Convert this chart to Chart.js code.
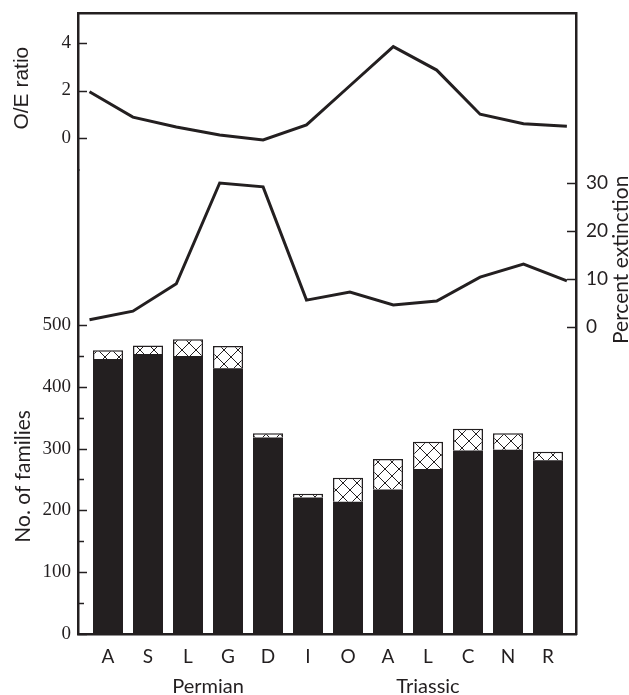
<!DOCTYPE html>
<html>
<head>
<meta charset="utf-8">
<script src="https://cdn.jsdelivr.net/npm/chart.js@4"></script>
<style>
  body { margin: 0; background: #fff; }
  #wrap { width: 629px; height: 695px; position: relative; }
</style>
</head>
<body>
<div id="wrap"><canvas id="extChart"></canvas></div>
<script>
const stages = ['A', 'S', 'L', 'G', 'D', 'I', 'O', 'A', 'L', 'C', 'N', 'R'];
const periods = ['Permian', 'Triassic'];
const oeRatio = [1.95, 0.88, 0.46, 0.13, -0.08, 0.55, 2.2, 3.85, 2.86, 1.0, 0.6, 0.5];
const pctExtinction = [1.5, 3.3, 9.0, 30.0, 29.2, 5.6, 7.3, 4.6, 5.4, 10.4, 13.1, 9.6];
const familiesBlack = [445, 453, 450, 430, 318, 221, 214, 234, 267, 297, 298, 281];
const familiesTotal = [459, 467, 477, 466, 325, 227, 253, 283, 311, 332, 325, 295];

const oeTicks = [0, 1, 2, 3, 4];
const familyTicks = [0, 50, 100, 150, 200, 250, 300, 350, 400, 450, 500];
const pctTicks = [0, 10, 20, 30];
const periodTicks = [2.5, 8];

const INK = '#231f20';

function hatchPattern() {
    const c = document.createElement('canvas');
    c.width = 14; c.height = 14;
    const g = c.getContext('2d');
    g.fillStyle = '#fff';
    g.fillRect(0, 0, 14, 14);
    g.strokeStyle = INK;
    g.lineWidth = 1;
    g.beginPath();
    g.moveTo(0, 0); g.lineTo(14, 14);
    g.moveTo(14, 0); g.lineTo(0, 14);
    g.stroke();
    return g.createPattern(c, 'repeat');
}

// fixed axis box size, no label overhang padding
function fitBox(w, h) {
    return s => {
        if (w !== null) s.width = w;
        if (h !== null) s.height = h;
        s.paddingTop = 0; s.paddingBottom = 0;
        s.paddingLeft = 0; s.paddingRight = 0;
    };
}

// inward tick marks + rotated axis titles
const framePlugin = {
    id: 'frame',
    afterDraw(chart) {
        const ctx = chart.ctx;
        ctx.save();
        ctx.strokeStyle = INK;
        ctx.lineWidth = 1.5;
        [['yOE', 1, v => v % 2 === 0], ['yBar', 1, v => v % 100 === 0], ['yPct', -1, () => true]].forEach(([id, dir, major]) => {
            const s = chart.scales[id];
            const x0 = dir > 0 ? s.right : s.left;
            s.ticks.forEach(t => {
                const y = Math.round(s.getPixelForValue(t.value)) + 0.5;
                const len = major(t.value) ? 9 : 6;
                ctx.beginPath();
                ctx.moveTo(x0, y);
                ctx.lineTo(x0 + dir * len, y);
                ctx.stroke();
            });
        });

        ctx.fillStyle = INK;
        ctx.textAlign = 'center';
        ctx.textBaseline = 'middle';
        const titles = [
            ['O/E ratio', 22, chart.scales.yOE.getPixelForValue(2.1), '21px "Liberation Sans"'],
            ['No. of families', 23, chart.scales.yBar.getPixelForValue(255), '21px Lato'],
            ['Percent extinction', 621, chart.scales.yPct.getPixelForValue(14), '21px Lato']
        ];
        titles.forEach(([txt, x, y, font]) => {
            ctx.save();
            ctx.translate(x, y);
            ctx.rotate(-Math.PI / 2);
            ctx.font = font;
            ctx.fillText(txt, 0, 0);
            ctx.restore();
        });
        ctx.restore();
    }
};

const border = { display: true, color: INK, width: 2.5 };

new Chart(document.getElementById('extChart'), {
    type: 'bar',
    data: {
        datasets: [
            {
                label: 'O/E ratio',
                type: 'line',
                data: oeRatio.map((v, i) => ({ x: i, y: v })),
                xAxisID: 'xLine',
                yAxisID: 'yOE',
                borderColor: INK,
                borderWidth: 3,
                pointRadius: 0,
                tension: 0
            },
            {
                label: 'Percent extinction',
                type: 'line',
                data: pctExtinction.map((v, i) => ({ x: i, y: v })),
                xAxisID: 'xLine',
                yAxisID: 'yPct',
                borderColor: INK,
                borderWidth: 3,
                pointRadius: 0,
                tension: 0
            },
            {
                label: 'families',
                data: familiesBlack.map((v, i) => ({ x: i, y: v })),
                xAxisID: 'xBar',
                yAxisID: 'yBar',
                stack: 'fam',
                grouped: false,
                backgroundColor: INK,
                barPercentage: 1,
                categoryPercentage: 0.75,
                maxBarThickness: 30
            },
            {
                label: 'extinct',
                data: familiesTotal.map((v, i) => ({ x: i, y: v - familiesBlack[i] })),
                xAxisID: 'xBar',
                yAxisID: 'yBar',
                stack: 'fam',
                grouped: false,
                backgroundColor: hatchPattern(),
                borderColor: INK,
                borderWidth: 1.5,
                borderSkipped: 'bottom',
                barPercentage: 1,
                categoryPercentage: 0.75,
                maxBarThickness: 30
            }
        ]
    },
    options: {
        responsive: true,
        maintainAspectRatio: false,
        animation: false,
        layout: { padding: 0 },
        plugins: { legend: { display: false }, tooltip: { enabled: false } },
        scales: {
            xBar: {
                type: 'linear',
                position: 'bottom',
                offset: false,
                stacked: true,
                min: -0.75,
                max: 11.7,
                afterBuildTicks: s => { s.ticks = stages.map((_, i) => ({ value: i })); },
                afterFit: fitBox(null, 36),
                grid: { display: false, drawTicks: false, offset: false },
                border: border,
                ticks: {
                    padding: 11,
                    color: INK,
                    font: { family: 'Lato', size: 19 },
                    maxRotation: 0,
                    autoSkip: false,
                    callback: v => stages[v]
                }
            },
            xGroup: {
                type: 'linear',
                position: 'bottom',
                offset: false,
                min: -0.75,
                max: 11.7,
                afterBuildTicks: s => { s.ticks = periodTicks.map(v => ({ value: v })); },
                afterFit: fitBox(null, 25),
                grid: { display: false, drawTicks: false, offset: false },
                border: { display: false },
                ticks: {
                    padding: 5,
                    color: INK,
                    font: { family: 'Lato', size: 20 },
                    maxRotation: 0,
                    autoSkip: false,
                    callback: (v, i) => periods[i]
                }
            },
            xLine: {
                type: 'linear',
                position: 'top',
                offset: false,
                min: -0.265,
                max: 11.21,
                afterFit: fitBox(null, 13),
                grid: { display: false, drawTicks: false, offset: false },
                border: border,
                ticks: { display: false }
            },
            yBar: {
                type: 'linear',
                position: 'left',
                stack: 'left',
                stackWeight: 464,
                stacked: true,
                min: 0,
                max: 750.8,
                afterBuildTicks: s => { s.ticks = familyTicks.map(v => ({ value: v })); },
                afterFit: fitBox(78, null),
                grid: { display: false, drawTicks: false },
                border: border,
                ticks: {
                    padding: 7,
                    color: INK,
                    font: { family: 'Liberation Serif', size: 19 },
                    callback: v => (v % 100 === 0 ? v : '')
                }
            },
            yOE: {
                type: 'linear',
                position: 'left',
                stack: 'left',
                stackWeight: 157,
                min: -1.347,
                max: 5.263,
                afterBuildTicks: s => { s.ticks = oeTicks.map(v => ({ value: v })); },
                afterFit: fitBox(78, null),
                grid: { display: false, drawTicks: false },
                border: border,
                ticks: {
                    padding: 7,
                    color: INK,
                    font: { family: 'Liberation Serif', size: 19 },
                    callback: v => (v % 2 === 0 ? v : '')
                }
            },
            yPct: {
                type: 'linear',
                position: 'right',
                min: -63.96,
                max: 65.42,
                afterBuildTicks: s => { s.ticks = pctTicks.map(v => ({ value: v })); },
                afterFit: fitBox(53, null),
                grid: { display: false, drawTicks: false },
                border: border,
                ticks: {
                    padding: 10,
                    color: INK,
                    font: { family: 'Lato', size: 19 }
                }
            }
        }
    },
    plugins: [framePlugin]
});
</script>
</body>
</html>
